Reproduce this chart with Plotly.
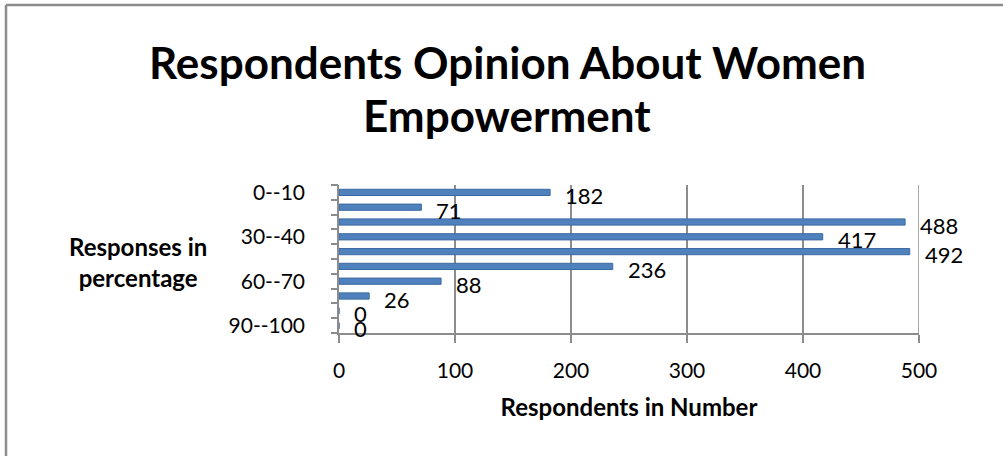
import plotly.graph_objects as go

categories = ["0--10", "10--20", "20--30", "30--40", "40--50",
              "50--60", "60--70", "70--80", "80--90", "90--100"]
values = [182, 71, 488, 417, 492, 236, 88, 26, 0, 0]
x_ticks = [0, 100, 200, 300, 400, 500]
shown_labels = ["0--10", "30--40", "60--70", "90--100"]
title_lines = ["Respondents Opinion About Women", "Empowerment"]

FONT = "Lato"
BAR = "#4F81BD"
GRID = "#8c8c8c"

W, H = 1003, 456
ML, MR, MT, MB = 339, 84, 185, 123
PW, PH = W - ML - MR, H - MT - MB


def px(xpix):
    return (xpix - ML) / PW


def py(ypix):
    return 1 - (ypix - MT) / PH


idx = list(range(len(categories)))

fig = go.Figure()
fig.add_trace(go.Bar(
    x=values, y=idx, orientation="h", width=0.42,
    marker=dict(color=BAR, line=dict(color="#3b6aa3", width=1)),
    hoverinfo="x+y", showlegend=False,
))
fig.add_trace(go.Scatter(x=[0], y=[0], yaxis="y2", mode="markers",
                         marker=dict(opacity=0), showlegend=False, hoverinfo="skip"))

for i, v in enumerate(values):
    fig.add_annotation(x=v, y=i, text=str(v), showarrow=False,
                       xanchor="left", yanchor="middle", xshift=13, yshift=-3,
                       font=dict(family=FONT, size=22, color="black"))

tick_pos = [idx[categories.index(c)] for c in shown_labels]

fig.update_layout(
    width=W, height=H,
    margin=dict(l=ML, r=MR, t=MT, b=MB, pad=0),
    paper_bgcolor="white", plot_bgcolor="white",
    xaxis=dict(range=[0, 500], tickvals=x_ticks, ticks="outside", ticklen=8,
               tickcolor=GRID, tickwidth=1.5,
               showgrid=True, gridcolor=GRID, gridwidth=1.5,
               showline=True, linecolor=GRID, linewidth=1.5, zeroline=False,
               ticklabelstandoff=10,
               tickfont=dict(family=FONT, size=21, color="black"),
               title=dict(text="<b>Respondents in Number</b>", standoff=18,
                          font=dict(family=FONT, size=24, color="black"))),
    yaxis=dict(range=[len(categories) - 0.5, -0.5], tickvals=tick_pos,
               ticktext=shown_labels, ticks="", showgrid=False, zeroline=False,
               showline=True, linecolor=GRID, linewidth=1.5,
               ticklabelstandoff=28,
               tickfont=dict(family=FONT, size=21, color="black")),
    yaxis2=dict(overlaying="y", range=[len(categories) - 0.5, -0.5],
                tickvals=[i - 0.5 for i in idx] + [len(categories) - 0.5],
                ticks="outside", ticklen=7, tickcolor=GRID, tickwidth=1.5,
                showticklabels=False, showgrid=False, zeroline=False, side="left"),
)

# right-most back-wall gridline at the axis maximum
fig.add_shape(type="line", xref="x", yref="paper", x0=x_ticks[-1], x1=x_ticks[-1],
              y0=0, y1=1, line=dict(color=GRID, width=1.5), layer="above")

fig.add_annotation(xref="paper", yref="paper", x=px(138), y=py(262),
                   text="<b>Responses in<br>percentage</b>", showarrow=False,
                   xanchor="center", yanchor="middle",
                   font=dict(family=FONT, size=24, color="black"))

for line, ycen in zip(title_lines, [62, 115]):
    fig.add_annotation(xref="paper", yref="paper", x=px(507), y=py(ycen),
                       text="<b>" + line + "</b>", showarrow=False,
                       xanchor="center", yanchor="middle",
                       font=dict(family=FONT, size=44, color="black"))

# outer frame (left and top edges visible)
fig.add_shape(type="line", xref="paper", yref="paper", x0=px(6), x1=px(6),
              y0=py(5), y1=py(H + 5), line=dict(color=GRID, width=2.5))
fig.add_shape(type="line", xref="paper", yref="paper", x0=px(6), x1=px(W + 5),
              y0=py(5), y1=py(5), line=dict(color=GRID, width=2.5))

fig.write_html("out.html")
